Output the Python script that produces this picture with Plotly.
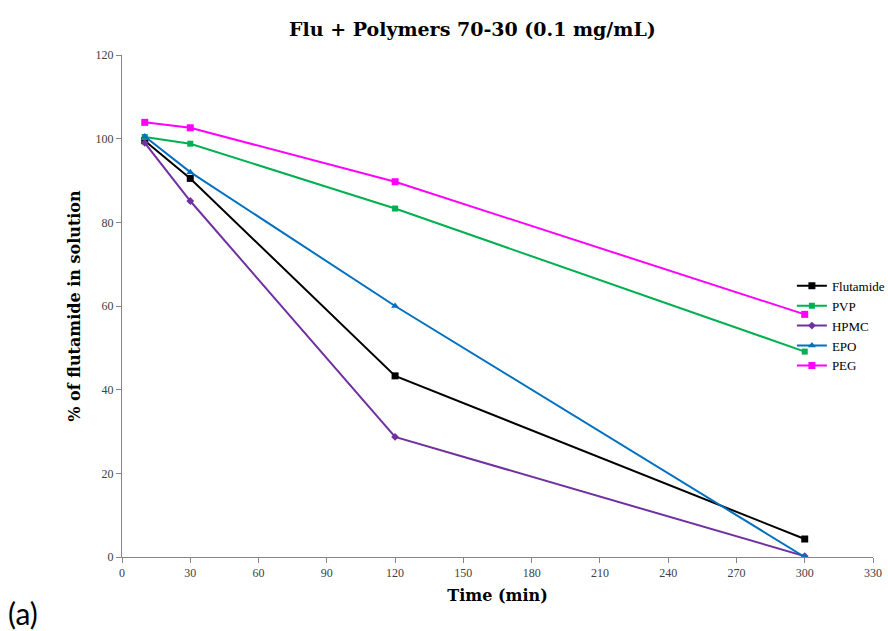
import plotly.graph_objects as go

time_min = [10, 30, 120, 300]
flutamide = [99.5, 90.5, 43.3, 4.3]
pvp = [100.4, 98.8, 83.3, 49.1]
hpmc = [99.0, 85.1, 28.7, 0.2]
epo = [100.5, 92.0, 60.0, 0.0]
peg = [103.9, 102.6, 89.7, 58.0]

x_ticks = [0, 30, 60, 90, 120, 150, 180, 210, 240, 270, 300, 330]
y_ticks = [0, 20, 40, 60, 80, 100, 120]

series = [
    ("Flutamide", flutamide, "#000000", "square", 7),
    ("PVP", pvp, "#00B050", "square", 6),
    ("HPMC", hpmc, "#7030A0", "diamond", 6),
    ("EPO", epo, "#0070C0", "triangle-up", 7),
    ("PEG", peg, "#FF00FF", "square", 7),
]

fig = go.Figure()
for name, vals, color, sym, sz in series:
    fig.add_trace(go.Scatter(
        x=time_min, y=vals, name=name, mode="lines+markers",
        line=dict(color=color, width=2),
        marker=dict(symbol=sym, size=sz, color=color),
    ))

serif = "Liberation Serif"
bold_serif = "DejaVu Serif"
fig.update_layout(
    width=888, height=631,
    paper_bgcolor="white", plot_bgcolor="white",
    margin=dict(l=122, r=15, t=55, b=74, autoexpand=False),
    title=dict(text="<b>Flu + Polymers 70-30 (0.1 mg/mL)</b>", x=0.532, xanchor="center",
               y=0.953, yanchor="middle", font=dict(family=bold_serif, size=19, color="black")),
    xaxis=dict(range=[0, 330], tickvals=x_ticks, showgrid=False, zeroline=False,
               showline=True, linecolor="#868686", linewidth=1,
               ticks="outside", ticklen=5, tickcolor="#868686",
               tickfont=dict(family=serif, size=12, color="#404040"),
               title=dict(text="<b>Time (min)</b>", font=dict(family=bold_serif, size=16, color="black"), standoff=10)),
    yaxis=dict(range=[0, 120], tickvals=y_ticks, showgrid=False, zeroline=False,
               showline=True, linecolor="#868686", linewidth=1,
               ticks="outside", ticklen=5, tickcolor="#868686",
               tickfont=dict(family=serif, size=12, color="#404040"),
               title=dict(text="<b>% of flutamide in solution</b>", font=dict(family=bold_serif, size=16, color="black"), standoff=10)),
    legend=dict(x=0.892, y=0.57, xanchor="left", yanchor="top", bgcolor="rgba(0,0,0,0)",
                font=dict(family=serif, size=13, color="black"), tracegroupgap=0, itemwidth=30),
    annotations=[dict(text="(a)", xref="paper", yref="paper", x=-0.1545, y=-0.112,
                      xanchor="left", yanchor="middle", showarrow=False,
                      font=dict(family="Lato", size=30, color="black"))],
)

fig.write_html("out.html")
